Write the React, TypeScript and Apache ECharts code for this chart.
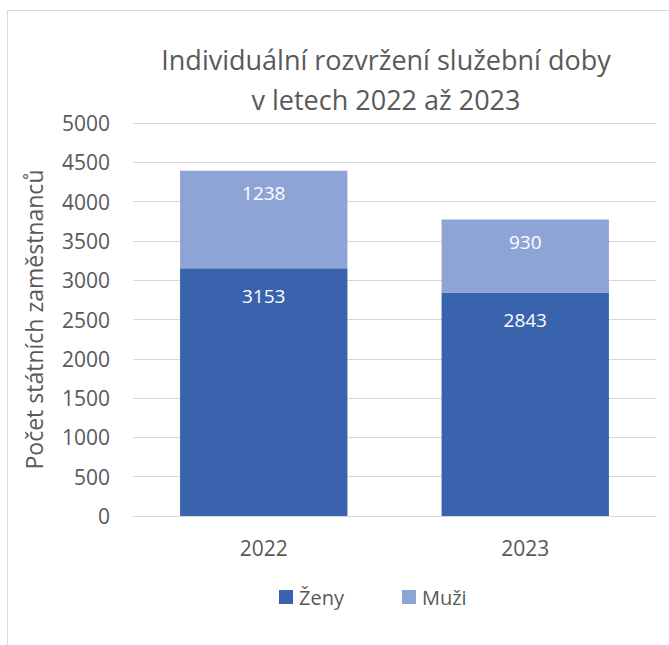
import React, { useEffect, useRef } from "react";
import * as echarts from "echarts";

const titleLines = ["Individuální rozvržení služební doby", "v letech 2022 až 2023"];
const categories = ["2022", "2023"];
const zenyValues = [3153, 2843];
const muziValues = [1238, 930];
const yAxisName = "Počet státních zaměstnanců";

const FONT = "'Open Sans', sans-serif";
const TEXT = "#595959";

export default function App() {
  const ref = useRef<HTMLDivElement>(null);
  useEffect(() => {
    if (!ref.current) return;
    const chart = echarts.init(ref.current, undefined, { renderer: "svg" });
    chart.setOption({
      animation: false,
      textStyle: { fontFamily: FONT },
      graphic: [
        {
          type: "text",
          x: 378,
          y: 48,
          style: {
            text: titleLines[0],
            fontFamily: FONT,
            fontSize: 27,
            fill: TEXT,
            textAlign: "center",
            textVerticalAlign: "middle",
          },
        },
        {
          type: "text",
          x: 378,
          y: 88,
          style: {
            text: titleLines[1],
            fontFamily: FONT,
            fontSize: 27,
            fill: TEXT,
            textAlign: "center",
            textVerticalAlign: "middle",
          },
        },
      ],
      legend: {
        left: 266,
        top: 571,
        itemWidth: 14,
        itemHeight: 14,
        itemGap: 58,
        icon: "rect",
        textStyle: { color: TEXT, fontSize: 20, fontFamily: FONT, padding: [0, 0, 0, 1] },
        data: ["Ženy", "Muži"],
      },
      grid: { left: 125, right: 13, top: 112, bottom: 129 },
      xAxis: {
        type: "category",
        data: categories,
        axisTick: { show: false },
        axisLine: { lineStyle: { color: "#d9d9d9" } },
        axisLabel: { color: TEXT, fontSize: 21, fontFamily: FONT, margin: 21 },
      },
      yAxis: {
        type: "value",
        min: 0,
        max: 5000,
        interval: 500,
        name: yAxisName,
        nameLocation: "middle",
        nameGap: 88,
        nameTextStyle: { color: TEXT, fontSize: 23, fontFamily: FONT },
        axisLine: { show: false },
        axisTick: { show: false },
        splitLine: { lineStyle: { color: "#d9d9d9", width: 1 } },
        axisLabel: {
          color: TEXT,
          fontSize: 21,
          fontFamily: FONT,
          margin: 23,
          formatter: (v: number) => String(v),
        },
      },
      series: [
        {
          name: "Ženy",
          type: "bar",
          stack: "total",
          barWidth: "64%",
          data: zenyValues,
          itemStyle: { color: "#3A63AD" },
          label: {
            show: true,
            position: "insideTop",
            distance: 18,
            color: "#ffffff",
            fontSize: 19,
            fontFamily: FONT,
          },
        },
        {
          name: "Muži",
          type: "bar",
          stack: "total",
          barWidth: "64%",
          data: muziValues,
          itemStyle: { color: "#8FA4D6" },
          label: {
            show: true,
            position: "insideTop",
            distance: 13,
            color: "#ffffff",
            fontSize: 19,
            fontFamily: FONT,
          },
        },
      ],
    });
    return () => chart.dispose();
  }, []);

  return (
    <div
      style={{
        position: "fixed",
        left: 7,
        top: 10,
        width: 700,
        height: 700,
        borderTop: "1px solid #d9d9d9",
        borderLeft: "1px solid #d9d9d9",
        background: "#ffffff",
      }}
    >
      <div ref={ref} style={{ width: 661, height: 634 }} />
    </div>
  );
}
